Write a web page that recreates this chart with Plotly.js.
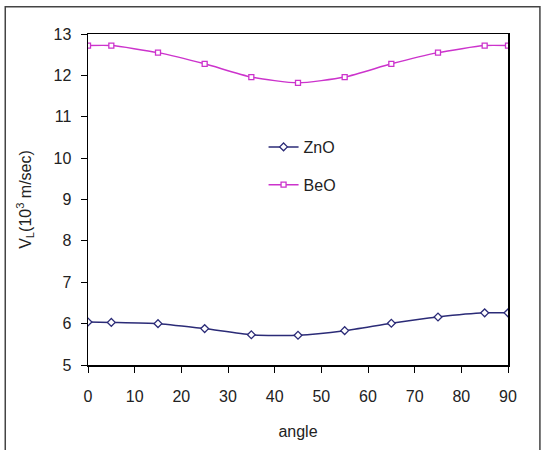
<!DOCTYPE html>
<html><head><meta charset="utf-8">
<script src="https://cdn.plot.ly/plotly-3.0.1.min.js"></script>
<style>body{margin:0;background:#fff}#c{width:542px;height:450px}</style>
</head><body><div id="c"></div>
<script>
const angles = [0, 5, 15, 25, 35, 45, 55, 65, 75, 85, 90];
const zno = [6.04, 6.03, 6.00, 5.88, 5.73, 5.72, 5.83, 6.01, 6.16, 6.26, 6.26];
const beo = [12.72, 12.72, 12.55, 12.28, 11.96, 11.82, 11.96, 12.28, 12.55, 12.72, 12.72];
const xticks = [0,10,20,30,40,50,60,70,80,90];
const yticks = [5,6,7,8,9,10,11,12,13];

const font = {family: 'Liberation Sans, Arial, sans-serif', size: 16, color: '#222'};
const data = [
  {x: angles, y: zno, name: 'ZnO', legendgroup: 'a', mode: 'lines+markers', type: 'scatter',
   line: {color: '#2b2b77', width: 1.5, shape: 'spline', smoothing: 0.6},
   marker: {symbol: 'diamond', size: 6, color: '#fff', line: {color: '#2b2b77', width: 1.3}}},
  {x: angles, y: beo, name: 'BeO', legendgroup: 'b', mode: 'lines+markers', type: 'scatter',
   line: {color: '#cc33cc', width: 1.5, shape: 'spline', smoothing: 0.6},
   marker: {symbol: 'square', size: 5, color: '#fff', line: {color: '#cc33cc', width: 1.3}}}
];
const layout = {
  width: 542, height: 450,
  margin: {l: 88, r: 34, t: 34, b: 85},
  paper_bgcolor: '#fff', plot_bgcolor: '#fff',
  font: font,
  showlegend: true,
  legend: {x: 0.418, y: 0.71, xanchor: 'left', yanchor: 'top', bgcolor: 'rgba(0,0,0,0)',
    font: {family: font.family, size: 16, color: '#222'}, tracegroupgap: 14, traceorder: 'grouped'},
  xaxis: {range: [0, 90], tickvals: xticks, ticktext: xticks.map(String),
    ticks: 'outside', ticklen: 6, tickcolor: '#000', showgrid: false, zeroline: false,
    showline: true, linecolor: '#000', linewidth: 1.5, mirror: true, ticklabelstandoff: 10,
    title: {text: 'angle', font: font, standoff: 22}},
  yaxis: {range: [5, 13], tickvals: yticks, ticktext: yticks.map(String),
    ticks: 'outside', ticklen: 6, tickcolor: '#000', showgrid: false, zeroline: false,
    showline: true, linecolor: '#000', linewidth: 1.5, mirror: true, ticklabelstandoff: 6,
    title: {text: 'V<sub>L</sub>(10<sup>3</sup> m/sec)', font: font, standoff: 18}},
  shapes: [{type: 'rect', xref: 'paper', yref: 'paper', x0: -0.197, x1: 1.076, y0: -0.26, y1: 1.082,
    line: {color: '#444', width: 1.5}, fillcolor: 'rgba(0,0,0,0)', layer: 'below'}]
};
Plotly.newPlot('c', data, layout, {staticPlot: true, displayModeBar: false});
</script></body></html>
